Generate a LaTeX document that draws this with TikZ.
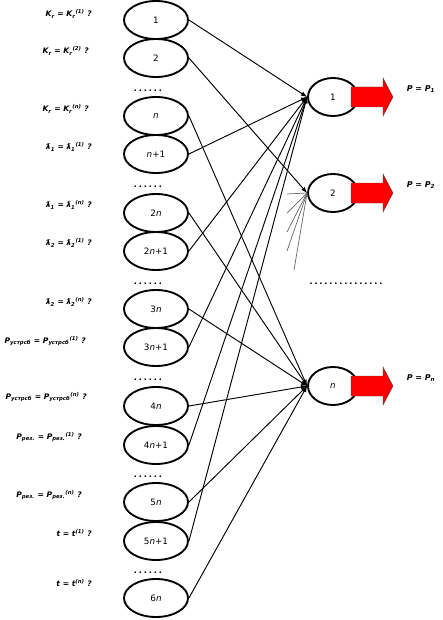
\documentclass[tikz,border=0pt]{standalone}
\usepackage{fontspec}
\setmainfont{DejaVu Sans}
\usetikzlibrary{shapes.geometric}
\newcommand{\lbar}{ƛ}
\newcommand{\dotrow}[1]{\foreach \k in {1,...,#1}{.\kern1.6pt}\kern-1.6pt}
\tikzset{
  inbox/.style={draw,ellipse,line width=1.6pt,minimum width=1.92cm,minimum height=1.14cm,inner sep=0pt,font=\fontsize{7.5}{9}\selectfont},
  outbox/.style={draw,ellipse,line width=1.6pt,minimum width=1.5cm,minimum height=1.14cm,inner sep=0pt,font=\fontsize{7.5}{9}\selectfont},
  cond/.style={anchor=east,inner sep=0pt,font=\fontsize{6.5}{8}\selectfont\bfseries\itshape},
  result/.style={inner sep=0pt,font=\fontsize{6.8}{8}\selectfont\bfseries\itshape},
  gap/.style={inner sep=0pt,font=\fontsize{7}{8}\selectfont\bfseries},
  link/.style={-latex,line width=0.8pt},
  fan/.style={black!60,line width=0.6pt},
  outarrow/.style={fill=red,draw=black!70,line width=0.4pt}
}
\begin{document}
\begin{tikzpicture}[x=0.03cm,y=-0.03cm]
        \useasboundingbox (0,0) rectangle (442,620);
        % input states
        \node[inbox] (l1) at (156,20) {1};
        \node[inbox] (l2) at (156,58) {2};
        \node[gap] (d1) at (148,91) {\dotrow{6}};
        \node[inbox] (ln) at (156,116) {\textit{n}};
        \node[inbox] (ln1) at (156,154) {\textit{n}+1};
        \node[gap] (d2) at (148,187) {\dotrow{6}};
        \node[inbox] (l2n) at (156,213) {2\textit{n}};
        \node[inbox] (l2n1) at (156,251) {2\textit{n}+1};
        \node[gap] (d3) at (148,284) {\dotrow{6}};
        \node[inbox] (l3n) at (156,309) {3\textit{n}};
        \node[inbox] (l3n1) at (156,347) {3\textit{n}+1};
        \node[gap] (d4) at (148,380) {\dotrow{6}};
        \node[inbox] (l4n) at (156,406) {4\textit{n}};
        \node[inbox] (l4n1) at (156,445) {4\textit{n}+1};
        \node[gap] (d5) at (148,477) {\dotrow{6}};
        \node[inbox] (l5n) at (156,502) {5\textit{n}};
        \node[inbox] (l5n1) at (156,541) {5\textit{n}+1};
        \node[gap] (d6) at (148,573) {\dotrow{6}};
        \node[inbox] (l6n) at (156,598) {6\textit{n}};

        % conditions
        \node[cond] (c1) at (92,14) {K\textsubscript{r} = K\textsubscript{r}\textsuperscript{(1)} ?};
        \node[cond] (c2) at (89,51) {K\textsubscript{r} = K\textsubscript{r}\textsuperscript{(2)} ?};
        \node[cond] (c3) at (89,109) {K\textsubscript{r} = K\textsubscript{r}\textsuperscript{(\textit{n})} ?};
        \node[cond] (c4) at (92,147) {\lbar\textsubscript{1} = \lbar\textsubscript{1}\textsuperscript{(1)} ?};
        \node[cond] (c5) at (92,205) {\lbar\textsubscript{1} = \lbar\textsubscript{1}\textsuperscript{(\textit{n})} ?};
        \node[cond] (c6) at (92,243) {\lbar\textsubscript{2} = \lbar\textsubscript{2}\textsuperscript{(1)} ?};
        \node[cond] (c7) at (92,302) {\lbar\textsubscript{2} = \lbar\textsubscript{2}\textsuperscript{(\textit{n})} ?};
        \node[cond] (c8) at (86,341) {P\textsubscript{устрсб} = P\textsubscript{устрсб}\textsuperscript{(1)} ?};
        \node[cond] (c9) at (87,397) {P\textsubscript{устрсб} = P\textsubscript{устрсб}\textsuperscript{(\textit{n})} ?};
        \node[cond] (c10) at (82,437) {P\textsubscript{рез.} = P\textsubscript{рез.}\textsuperscript{(1)} ?};
        \node[cond] (c11) at (82,495) {P\textsubscript{рез.} = P\textsubscript{рез.}\textsuperscript{(\textit{n})} ?};
        \node[cond] (c12) at (92,533) {t = t\textsuperscript{(1)} ?};
        \node[cond] (c13) at (92,583) {t = t\textsuperscript{(\textit{n})} ?};

        % outputs
        \node[outbox] (r1) at (333,97) {1};
        \node[outbox] (r2) at (333,193) {2};
        \node[gap] (d7) at (346,284) {\dotrow{15}};
        \node[outbox] (rn) at (333,386) {\textit{n}};
        \draw[outarrow] (r1.center) ++(18,-10) -- ++(32,0) -- ++(0,-9) -- ++(10,19) -- ++(-10,19) -- ++(0,-9) -- ++(-32,0) -- cycle;
        \draw[outarrow] (r2.center) ++(18,-10) -- ++(32,0) -- ++(0,-9) -- ++(10,19) -- ++(-10,19) -- ++(0,-9) -- ++(-32,0) -- cycle;
        \draw[outarrow] (rn.center) ++(18,-10) -- ++(32,0) -- ++(0,-9) -- ++(10,19) -- ++(-10,19) -- ++(0,-9) -- ++(-32,0) -- cycle;
        \node[result] (p1) at (421,89) {P = P\textsubscript{1}};
        \node[result] (p2) at (421,185) {P = P\textsubscript{2}};
        \node[result] (pn) at (421,378) {P = P\textsubscript{\textit{n}}};

        % links
        \draw[link] (l1.east) -- (r1.west);
        \draw[link] (ln1.east) -- (r1.west);
        \draw[link] (l2n1.east) -- (r1.west);
        \draw[link] (l3n1.east) -- (r1.west);
        \draw[link] (l4n1.east) -- (r1.west);
        \draw[link] (l5n1.east) -- (r1.west);
        \draw[link] (l2.east) -- (r2.west);
        \draw[link] (ln.east) -- (rn.west);
        \draw[link] (l2n.east) -- (rn.west);
        \draw[link] (l3n.east) -- (rn.west);
        \draw[link] (l4n.east) -- (rn.west);
        \draw[link] (l5n.east) -- (rn.west);
        \draw[link] (l6n.east) -- (rn.west);

        % other inputs of 2
        \coordinate (f1) at (287,194);
        \coordinate (f2) at (287,213);
        \coordinate (f3) at (287,232);
        \coordinate (f4) at (287,251);
        \coordinate (f5) at (294,270);
        \draw[fan] (r2.west) -- (f1);
        \draw[fan] (r2.west) -- (f2);
        \draw[fan] (r2.west) -- (f3);
        \draw[fan] (r2.west) -- (f4);
        \draw[fan] (r2.west) -- (f5);
\end{tikzpicture}
\end{document}
